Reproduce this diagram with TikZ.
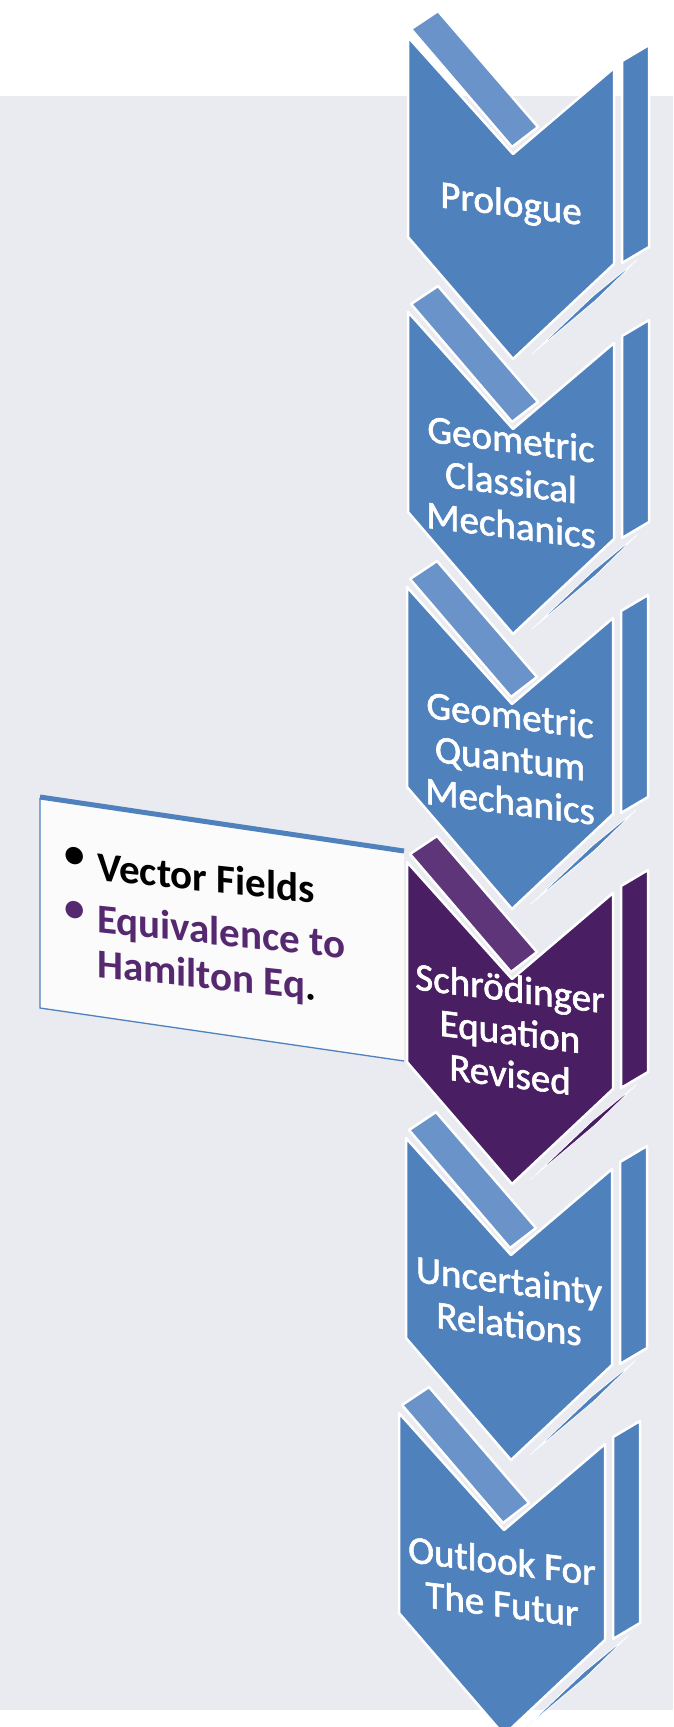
\documentclass[tikz,border=0pt]{standalone}
\usepackage{fontspec}
\setmainfont{Carlito}
\newfontfamily\chevfont[FakeBold=1.6]{Carlito}
\definecolor{bgray}{HTML}{EAEBF0}
\definecolor{cblue}{HTML}{4F81BD}
\definecolor{cbluel}{HTML}{6A93C9}
\definecolor{cpurp}{HTML}{4A1E63}
\definecolor{cpurpl}{HTML}{5E3579}
\definecolor{tpurp}{HTML}{55286F}
\definecolor{boxfill}{HTML}{FBFBFC}
\tikzset{
  face/.style={fill=#1, draw=white, line width=2.5pt, line join=round},
  sliver/.style={fill=#1, draw=white, line width=0.8pt, line join=round},
  ctext/.style={text=white, align=center, inner sep=0pt, yslant=-0.125,
    font=\chevfont\fontsize{39}{43}\selectfont},
  btext/.style={inner sep=0pt, yslant=-0.107,
    font=\bfseries\fontsize{41}{45}\selectfont},
}
% #1 x, #2 y, #3 face colour, #4 strip colour, #5 node name, #6 text dy, #7 text
\newcommand{\mychev}[7]{%
  \begin{scope}[shift={(#1,#2)}]
    \path[face=#4] (3,-8) -- (30,-26) -- (130,90) -- (104,110) -- cycle;
    \path[face=#3] (0,0) -- (105,117) -- (206,31) -- (206,227) -- (105,322) -- (0,200) -- cycle;
    \path[face=#3] (214,24) -- (241,8) -- (241,210) -- (214,226) -- cycle;
    \path[sliver=#3] (229,223) -- (188,263) -- (124,317) -- (185,259) -- cycle;
    \node[ctext] (#5) at (103,#6) {#7};
  \end{scope}}
\begin{document}
\begin{tikzpicture}[x=1pt,y=-1pt]
\useasboundingbox (0,0) rectangle (673,1727);
\fill[white] (0,0) rectangle (673,1727);
\fill[bgray] (0,96) rectangle (673,1710);
% callout box
\path[fill=boxfill] (40,798) -- (404,852) -- (404,1061) -- (40,1008) -- cycle;
\draw[cblue, line width=1.3pt] (404,1061) -- (40,1008) -- (40,798);
\draw[cblue, line width=5pt] (40,797) -- (404,851);
\node[btext, anchor=base west, text=black] (vf) at (97,880) {Vector Fields};
\node[btext, anchor=center, text=black] (b1) at (75,858) {•};
\node[btext, anchor=base west, text=tpurp] (eq) at (97,932) {Equivalence to};
\node[btext, anchor=base west, text=tpurp] (ham) at (97,977) {Hamilton Eq\textcolor{black}{.}};
\node[btext, anchor=center, text=tpurp] (b2) at (75,912) {•};
% chevrons
\mychev{408}{37}{cblue}{cbluel}{c1}{169}{Prologue}
\mychev{408}{312}{cblue}{cbluel}{c2}{170}{Geometric\\Classical\\Mechanics}
\mychev{407}{587}{cblue}{cbluel}{c3}{171}{Geometric\\Quantum\\Mechanics}
\mychev{407}{862}{cpurp}{cpurpl}{c4}{169}{Schrödinger\\Equation\\Revised}
\mychev{406}{1138}{cblue}{cbluel}{c5}{164}{Uncertainty\\Relations}
\mychev{399}{1413}{cblue}{cbluel}{c6}{169}{Outlook For\\The Futur}
\end{tikzpicture}
\end{document}
